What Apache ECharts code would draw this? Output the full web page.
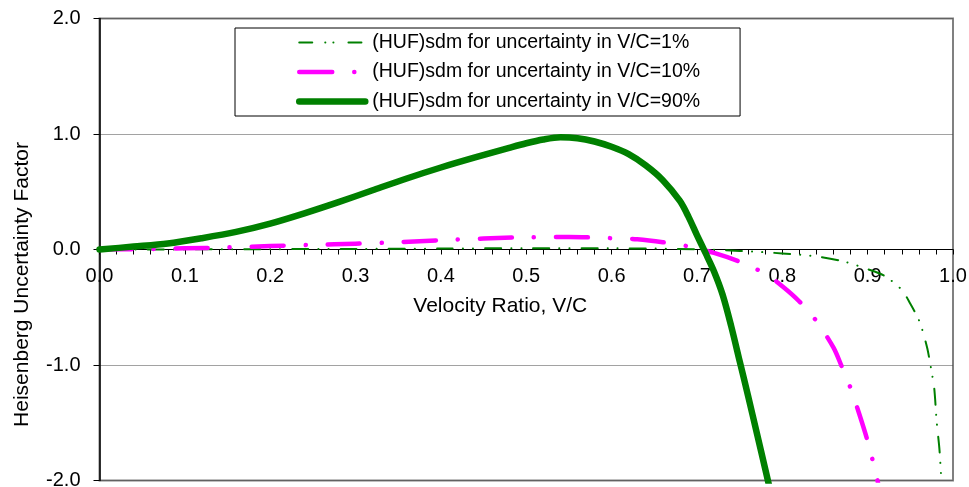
<!DOCTYPE html>
<html>
<head>
<meta charset="utf-8">
<script src="https://cdn.jsdelivr.net/npm/echarts@6/dist/echarts.min.js"></script>
<style>html,body{margin:0;padding:0;background:#fff}#c{width:969px;height:487px}</style>
</head>
<body>
<div id="c"></div>
<script>
// ---- data ----
const seriesNames = [
  '(HUF)sdm for uncertainty in V/C=1%',
  '(HUF)sdm for uncertainty in V/C=10%',
  '(HUF)sdm for uncertainty in V/C=90%'
];
const xTickLabels = ['0.0','0.1','0.2','0.3','0.4','0.5','0.6','0.7','0.8','0.9','1.0'];
const yTickLabels = ['-2.0','-1.0','0.0','1.0','2.0'];

// V/C = 1 %
const x1 = [0, 0.1, 0.2, 0.3, 0.4, 0.5, 0.6, 0.65, 0.7, 0.75, 0.8, 0.84, 0.87, 0.9, 0.92, 0.94, 0.95, 0.96, 0.965, 0.97, 0.975, 0.978, 0.981, 0.984, 0.986, 0.988];
const y1 = [0, 0.001, 0.003, 0.005, 0.008, 0.011, 0.010, 0.008, 0.002, -0.012, -0.034, -0.06, -0.10, -0.17, -0.23, -0.35, -0.47, -0.61, -0.72, -0.86, -1.06, -1.20, -1.50, -1.72, -1.95, -2.20];

// V/C = 10 %
const x10 = [0, 0.05, 0.10, 0.15, 0.20, 0.25, 0.30, 0.35, 0.40, 0.45, 0.50, 0.55, 0.60, 0.63, 0.66, 0.69, 0.72, 0.75, 0.78, 0.80, 0.82, 0.84, 0.86, 0.87, 0.88, 0.89, 0.90, 0.91, 0.915];
const y10 = [0, 0.003, 0.010, 0.018, 0.030, 0.040, 0.050, 0.063, 0.080, 0.095, 0.106, 0.108, 0.098, 0.088, 0.063, 0.027, -0.030, -0.106, -0.210, -0.318, -0.45, -0.62, -0.85, -1.02, -1.20, -1.42, -1.66, -1.95, -2.12];

// V/C = 90 %
const x90 = [0, 0.04, 0.08, 0.12, 0.16, 0.20, 0.24, 0.28, 0.32, 0.36, 0.40, 0.44, 0.48, 0.50, 0.52, 0.54, 0.56, 0.58, 0.60, 0.62, 0.64, 0.66, 0.68, 0.69, 0.70, 0.71, 0.72, 0.73, 0.74, 0.75, 0.76, 0.77, 0.78, 0.79];
const y90 = [0, 0.025, 0.052, 0.098, 0.152, 0.224, 0.313, 0.41, 0.513, 0.615, 0.71, 0.797, 0.88, 0.92, 0.953, 0.972, 0.964, 0.935, 0.889, 0.825, 0.728, 0.60, 0.42, 0.285, 0.125, -0.03, -0.19, -0.39, -0.66, -0.965, -1.27, -1.585, -1.90, -2.22];

const pairs = (xs, ys) => xs.map((x, i) => [x, ys[i]]);

const FONT = 'Liberation Sans, Arial, sans-serif';
const GREEN = '#008000';
const MAGENTA = '#FF00FF';

const styles = [
  { color: GREEN, width: 2, type: [16, 10, 0.1, 10, 0.1, 12], cap: 'round', join: 'round' },
  { color: MAGENTA, width: 4.5, type: [32, 22, 0.1, 22], cap: 'round', join: 'round' },
  { color: GREEN, width: 6.5, type: 'solid', cap: 'round', join: 'round' }
];
const legendStyles = [
  { color: GREEN, width: 2, type: [13, 13, 0.1, 8, 0.1, 15], cap: 'round', opacity: 1 },
  { color: MAGENTA, width: 4.5, type: [33, 22, 0.1, 40], cap: 'round', opacity: 1 },
  { color: GREEN, width: 6.5, type: 'solid', cap: 'round', opacity: 1 }
];
const dataSets = [pairs(x1, y1), pairs(x10, y10), pairs(x90, y90)];

const GRID = { left: 99.5, right: 16, top: 18.5, bottom: 6.5 };
const plotH = 487 - GRID.top - GRID.bottom;

const chart = echarts.init(document.getElementById('c'), null, { renderer: 'canvas' });
chart.setOption({
  animation: false,
  backgroundColor: '#fff',
  textStyle: { fontFamily: FONT, color: '#000' },
  grid: Object.assign({
    show: true, borderColor: '#808080', borderWidth: 2,
    outerBoundsMode: 'none'
  }, GRID),
  legend: {
    orient: 'vertical',
    left: 235, top: 28,
    padding: [4.5, 40, 4.5, 61],
    borderColor: '#000', borderWidth: 1,
    backgroundColor: '#fff',
    itemWidth: 66, itemHeight: 20, itemGap: 9.5,
    selectedMode: false,
    itemStyle: { opacity: 0 },
    textStyle: { fontFamily: FONT, fontSize: 19.5, color: '#000', lineHeight: 20, padding: [0, 0, 0, 2] },
    data: seriesNames.map((n, i) => ({ name: n, lineStyle: legendStyles[i], itemStyle: { opacity: 0 } }))
  },
  xAxis: {
    type: 'value', min: 0, max: 1, interval: 0.1,
    position: 'bottom',
    offset: -plotH / 2,
    name: 'Velocity Ratio, V/C', nameLocation: 'middle', nameGap: 46,
    nameTextStyle: { fontFamily: FONT, fontSize: 21, color: '#000', padding: [0, 52, 0, 0] },
    axisLine: { show: true, onZero: false, lineStyle: { color: '#000', width: 1 } },
    axisTick: { show: true, length: 5, lineStyle: { color: '#000', width: 1 } },
    minorTick: { show: true, splitNumber: 5, length: 5, lineStyle: { color: '#000', width: 1 } },
    axisLabel: {
      show: true, margin: 17, fontFamily: FONT, fontSize: 20, color: '#000',
      formatter: v => xTickLabels[Math.round(v * 10)]
    },
    splitLine: { show: false }
  },
  yAxis: {
    type: 'value', min: -2, max: 2, interval: 1,
    name: 'Heisenberg Uncertainty Factor', nameLocation: 'middle', nameGap: 67,
    nameTextStyle: { fontFamily: FONT, fontSize: 21, color: '#000', padding: [0, 70, 0, 0] },
    axisLine: { show: true, onZero: false, lineStyle: { color: '#000', width: 1.5 } },
    axisTick: { show: true, length: 6, lineStyle: { color: '#000', width: 1 } },
    axisLabel: {
      margin: 19, fontFamily: FONT, fontSize: 20, color: '#000',
      formatter: v => yTickLabels[Math.round(v) + 2]
    },
    splitLine: { show: true, lineStyle: { color: '#444', width: 1, type: [1, 1] } }
  },
  series: seriesNames.map((n, i) => ({
    name: n,
    type: 'line',
    data: dataSets[i],
    symbol: 'none',
    showSymbol: false,
    smooth: 0.3,
    silent: true,
    clip: true,
    lineStyle: styles[i],
    itemStyle: { color: styles[i].color },
    emphasis: { disabled: true },
    z: 2 + i
  }))
});
</script>
</body>
</html>
